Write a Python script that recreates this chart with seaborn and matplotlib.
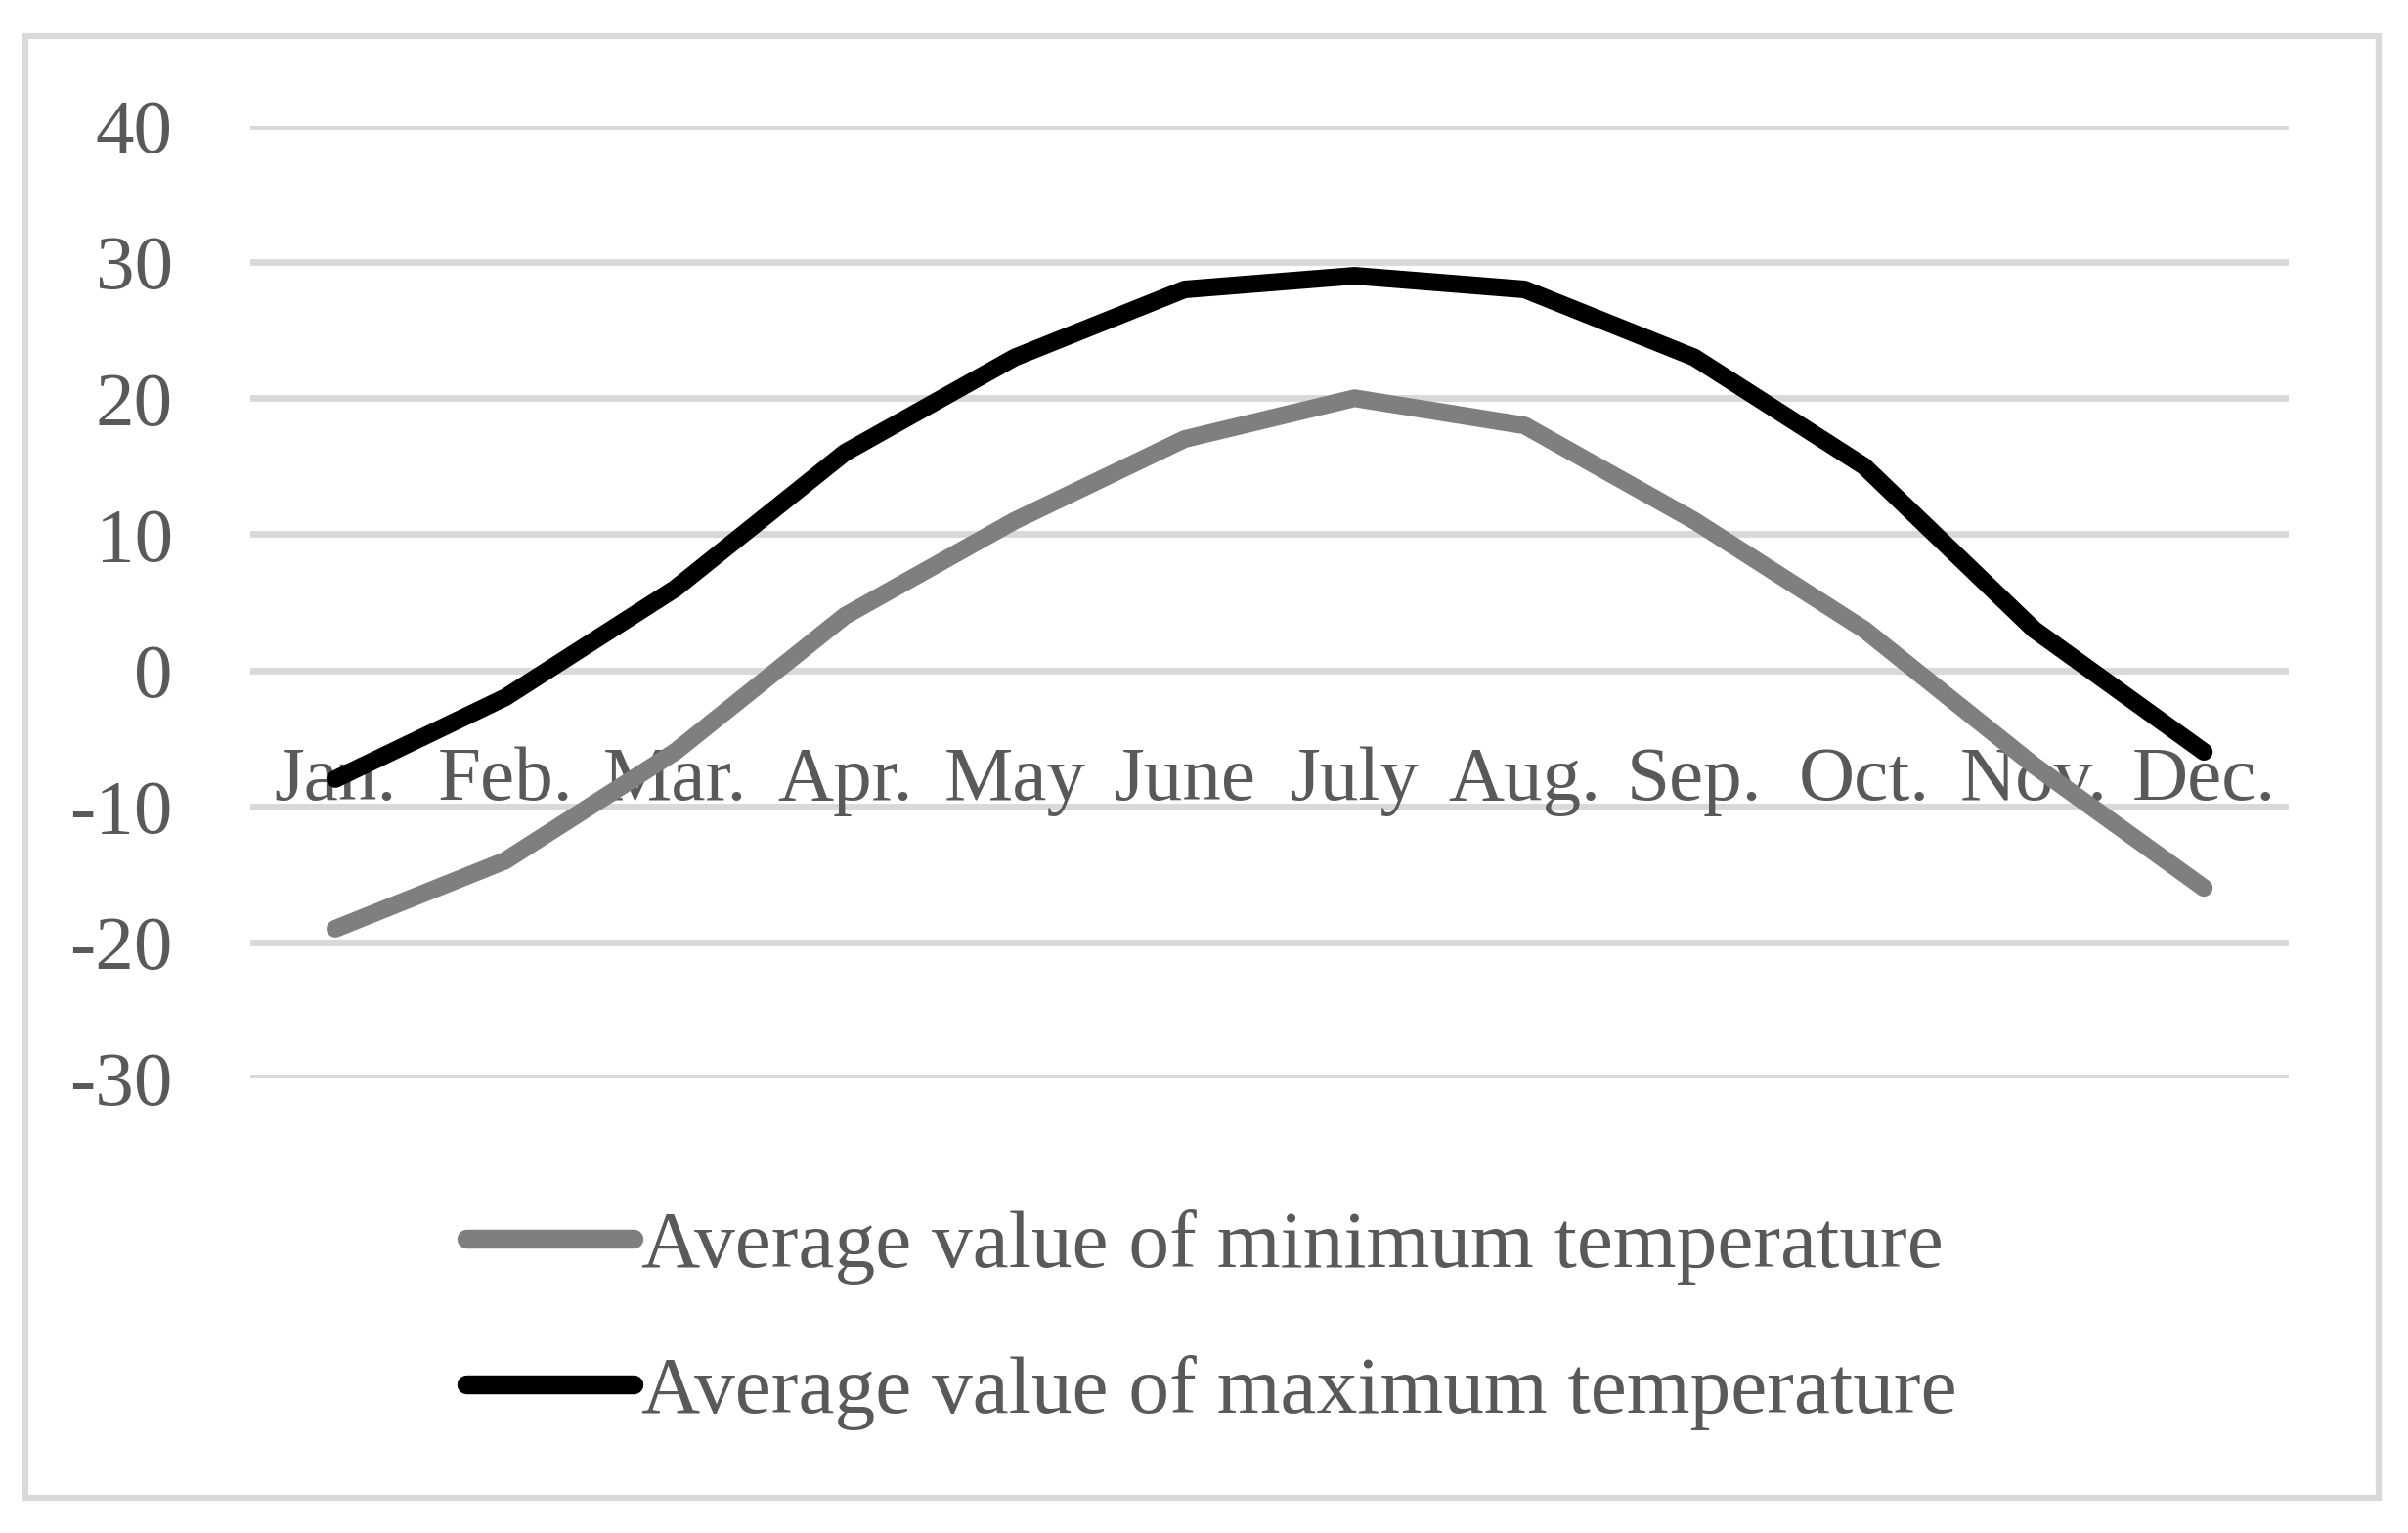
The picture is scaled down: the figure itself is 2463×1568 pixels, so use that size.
import numpy as np
import pandas as pd
import matplotlib.pyplot as plt
import matplotlib.patches as mpatches
import seaborn as sns

# Monthly averages (degrees C)
months = ['Jan.', 'Feb.', 'Mar.', 'Apr.', 'May', 'June',
          'July', 'Aug.', 'Sep.', 'Oct.', 'Nov.', 'Dec.']
min_temp = [-19, -14, -6, 4, 11, 17, 20, 18, 11, 3, -7, -16]
max_temp = [-8, -2, 6, 16, 23, 28, 29, 28, 23, 15, 3, -6]
series_names = ['Average value of minimum temperature',
                'Average value of maximum temperature']
y_ticks = [-30, -20, -10, 0, 10, 20, 30, 40]

df = pd.DataFrame({
    'month': np.tile(np.arange(len(months)), 2),
    'temp': min_temp + max_temp,
    'series': np.repeat(series_names, len(months)),
})

sns.set_theme(style='white')
plt.rcParams['font.family'] = ['Liberation Serif', 'DejaVu Serif']

text_col = '#595959'
grid_col = '#d9d9d9'

fig = plt.figure(figsize=(24.63, 15.68), dpi=100)
ax = fig.add_axes([0.104, 0.2966, 0.8465, 0.6211])

sns.lineplot(data=df, x='month', y='temp', hue='series', hue_order=series_names,
             palette=['#7f7f7f', '#000000'], linewidth=13, ax=ax,
             solid_capstyle='round', solid_joinstyle='round')

ax.set_xlim(-0.5, len(months) - 0.5)
ax.set_ylim(-30, 40)
ax.set_yticks(y_ticks)
ax.set_yticklabels([str(v) for v in y_ticks])
ax.set_xticks(range(len(months)))
ax.set_xticklabels(months)
ax.set_xlabel('')
ax.set_ylabel('')

for v in y_ticks:
    ax.axhline(v, color=grid_col, linewidth=5, zorder=0)

for s in ax.spines.values():
    s.set_visible(False)
ax.spines['bottom'].set_position(('data', 0))

ax.tick_params(axis='x', length=0, pad=56, labelsize=57, labelcolor=text_col)
ax.tick_params(axis='y', length=0, pad=57, labelsize=57, labelcolor=text_col)

leg = ax.legend(loc='upper left', bbox_to_anchor=(0.1937, 0.211),
                bbox_transform=fig.transFigure, frameon=False, fontsize=60,
                handlelength=2.05, handletextpad=0.1, labelspacing=0.86,
                borderpad=0, borderaxespad=0)
for t in leg.get_texts():
    t.set_color(text_col)
for h in leg.get_lines():
    h.set_linewidth(14)
    h.set_solid_capstyle('round')

# light outer frame around the whole chart
fig.patches.append(mpatches.Rectangle((26 / 2463, 1 - 1532 / 1568),
                                      (2433 - 26) / 2463, (1532 - 37) / 1568,
                                      transform=fig.transFigure, fill=False,
                                      edgecolor=grid_col, linewidth=4.5))

fig.savefig('out.png', dpi=100)
